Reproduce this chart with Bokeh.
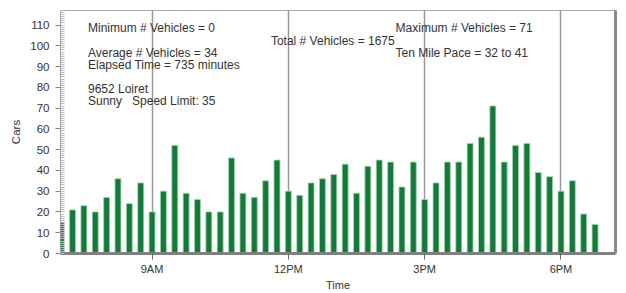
from bokeh.plotting import figure
from bokeh.models import Range1d, FixedTicker, SingleIntervalTicker, LinearAxis, ColumnDataSource, Label
from bokeh.embed import file_html
from bokeh.resources import INLINE

# ---- data ----
times = ["7:00", "7:15", "7:30", "7:45", "8:00", "8:15", "8:30", "8:45",
         "9:00", "9:15", "9:30", "9:45", "10:00", "10:15", "10:30", "10:45",
         "11:00", "11:15", "11:30", "11:45", "12:00", "12:15", "12:30", "12:45",
         "13:00", "13:15", "13:30", "13:45", "14:00", "14:15", "14:30", "14:45",
         "15:00", "15:15", "15:30", "15:45", "16:00", "16:15", "16:30", "16:45",
         "17:00", "17:15", "17:30", "17:45", "18:00", "18:15", "18:30", "18:45",
         "19:00"]
cars = [15, 21, 23, 20, 27, 36, 24, 34,
        20, 30, 52, 29, 26, 20, 20, 46,
        29, 27, 35, 45, 30, 28, 34, 36,
        38, 43, 29, 42, 45, 44, 32, 44,
        26, 34, 44, 44, 53, 56, 71, 44,
        52, 53, 39, 37, 30, 35, 19, 14,
        0]
tick_hours = [9, 12, 15, 18]
tick_labels = ["9AM", "12PM", "3PM", "6PM"]

info_left = ["Minimum # Vehicles = 0", "Average # Vehicles = 34",
             "Elapsed Time = 735 minutes", "9652 Loiret"]
info_right = ["Maximum # Vehicles = 71", "Ten Mile Pace = 32 to 41"]
total_text = "Total # Vehicles = 1675"

hours = [int(t.split(":")[0]) + int(t.split(":")[1]) / 60 for t in times]

FONT = "Liberation Sans"
TXT = "#333333"

p = figure(width=620, height=293, output_backend="svg", toolbar_location=None,
           x_range=Range1d(6.985, 19.2), y_range=Range1d(0, 117),
           min_border_left=60, min_border_top=10, min_border_right=5, min_border_bottom=36)
p.background_fill_color = "white"
p.border_fill_color = "white"
p.outline_line_color = "#aaaaaa"
p.outline_line_width = 1

src = ColumnDataSource(dict(x=hours, top=cars))
p.vbar(x="x", top="top", width=0.13, source=src,
       fill_color="#137a3c", line_color="#9fd4a8", line_width=0.8)

# grid
p.ygrid.visible = False
p.xgrid.ticker = FixedTicker(ticks=tick_hours)
p.xgrid.grid_line_color = "#999999"
p.xgrid.grid_line_width = 1.5

# x axis
xa = p.xaxis[0]
xa.ticker = FixedTicker(ticks=tick_hours)
xa.major_label_overrides = {h: l for h, l in zip(tick_hours, tick_labels)}
xa.axis_line_color = "#808080"
xa.axis_line_width = 3
xa.major_tick_line_color = "#666666"
xa.major_tick_in = 0
xa.major_tick_out = 6
xa.minor_tick_line_color = None
xa.major_label_standoff = 3
xa.axis_label = "Time"
xa.axis_label_standoff = 1
xa.axis_label_text_font_style = "normal"

# y axis
ya = p.yaxis[0]
ya.ticker = SingleIntervalTicker(interval=10, num_minor_ticks=10)
ya.axis_line_color = "#999999"
ya.major_tick_line_color = "#888888"
ya.major_tick_in = 0
ya.major_tick_out = 5
ya.minor_tick_line_color = "#bbbbbb"
ya.minor_tick_in = 4
ya.minor_tick_out = 0
ya.major_label_standoff = 6
ya.axis_label = "Cars"
ya.axis_label_standoff = 5
ya.axis_label_text_font_style = "normal"

for ax, fs in ((xa, "11px"), (ya, "11.5px")):
    ax.major_label_text_font = FONT
    ax.major_label_text_font_size = fs
    ax.major_label_text_color = TXT
    ax.axis_label_text_font = FONT
    ax.axis_label_text_font_size = fs
    ax.axis_label_text_color = TXT

# right shadow
ra = LinearAxis(ticker=FixedTicker(ticks=[]))
ra.axis_line_color = "#888888"
ra.axis_line_width = 3
ra.major_tick_line_color = None
ra.minor_tick_line_color = None
p.add_layout(ra, "right")

# annotations
def lab(x, y, text, align="left"):
    p.add_layout(Label(x=x, y=y, text=text, text_font=FONT, text_font_size="12px",
                       text_color=TXT, text_baseline="middle", text_align=align))

lab(7.59, 108.5, info_left[0])
lab(7.59, 96.7, info_left[1])
lab(7.59, 91.0, info_left[2])
lab(7.59, 79.1, info_left[3])
lab(7.59, 73.5, "Sunny")
lab(8.56, 73.5, "Speed Limit: 35")
lab(14.34, 102.4, total_text, align="right")
lab(14.36, 108.5, info_right[0])
lab(14.36, 96.7, info_right[1])

open("out.html", "w").write(file_html(p, INLINE))
